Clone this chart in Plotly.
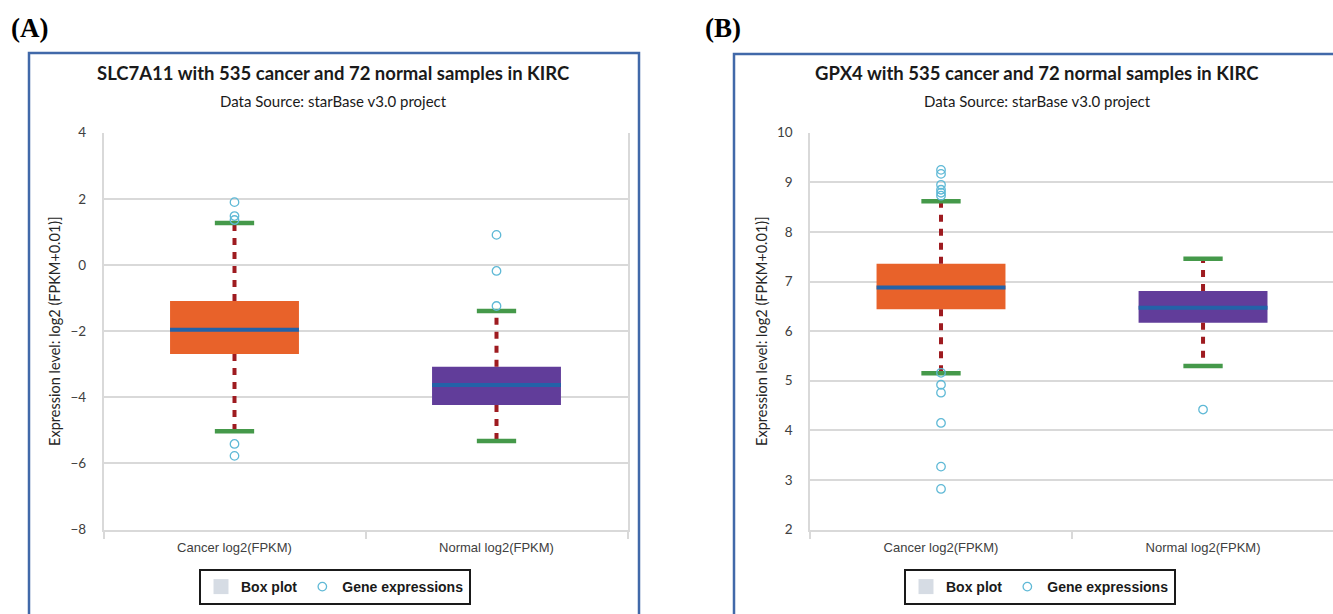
import plotly.graph_objects as go

# ---------------- data ----------------
categories = ["Cancer log2(FPKM)", "Normal log2(FPKM)"]

# Panel A: SLC7A11
a_q1 = [-2.69, -4.23]
a_median = [-1.96, -3.63]
a_q3 = [-1.09, -3.08]
a_lower = [-5.03, -5.32]
a_upper = [1.27, -1.39]
a_out_cancer = [1.90, 1.48, 1.36, -5.41, -5.77]
a_out_normal = [0.91, -0.18, -1.24]

# Panel B: GPX4
b_q1 = [6.44, 6.17]
b_median = [6.88, 6.47]
b_q3 = [7.36, 6.81]
b_lower = [5.15, 5.30]
b_upper = [8.62, 7.46]
b_out_cancer = [9.25, 9.17, 8.95, 8.85, 8.79, 8.73, 5.16, 4.92, 4.76, 4.15, 3.27, 2.82]
b_out_normal = [4.42]

a_title = "SLC7A11 with 535 cancer and 72 normal samples in KIRC"
b_title = "GPX4 with 535 cancer and 72 normal samples in KIRC"
subtitle = "Data Source: starBase v3.0 project"
y_title = "Expression level: log2 (FPKM+0.01)]"

# ---------------- style ----------------
W, H = 1333, 614
box_colors = ["#e8622a", "#613d9a"]
median_color = "#2362a8"
whisker_color = "#9e1b20"
cap_color = "#45994a"
marker_color = "#5fb9d6"
grid_color = "#d9d9d9"
frame_color = "#4169a9"
BOX_HALF = 0.246
CAP_HALF = 0.075

fig = go.Figure()


def add_panel(xa, ya, legend, q1, med, q3, lo, hi, outs):
    xs = list(range(len(categories)))
    # boxes
    fig.add_trace(go.Bar(
        x=xs, y=[b - a for a, b in zip(q1, q3)], base=q1, width=2 * BOX_HALF,
        marker=dict(color=box_colors, line=dict(width=0)),
        xaxis=xa, yaxis=ya, showlegend=False, hoverinfo="skip"))
    # whiskers
    wx, wy = [], []
    for i in xs:
        wx += [i, i, None, i, i, None]
        wy += [q3[i], hi[i], None, q1[i], lo[i], None]
    fig.add_trace(go.Scatter(
        x=wx, y=wy, mode="lines",
        line=dict(color=whisker_color, width=4, dash="7px,7px"),
        xaxis=xa, yaxis=ya, showlegend=False, hoverinfo="skip"))
    # medians
    mx, my = [], []
    for i in xs:
        mx += [i - BOX_HALF, i + BOX_HALF, None]
        my += [med[i], med[i], None]
    fig.add_trace(go.Scatter(
        x=mx, y=my, mode="lines", line=dict(color=median_color, width=4),
        xaxis=xa, yaxis=ya, showlegend=False, hoverinfo="skip"))
    # caps
    cx, cy = [], []
    for i in xs:
        cx += [i - CAP_HALF, i + CAP_HALF, None, i - CAP_HALF, i + CAP_HALF, None]
        cy += [hi[i], hi[i], None, lo[i], lo[i], None]
    fig.add_trace(go.Scatter(
        x=cx, y=cy, mode="lines", line=dict(color=cap_color, width=4.5),
        xaxis=xa, yaxis=ya, showlegend=False, hoverinfo="skip"))
    # legend swatch for box plot
    fig.add_trace(go.Scatter(
        x=[None], y=[None], mode="markers", name="<b>Box plot</b>",
        marker=dict(symbol="square", size=15, color="#d6dce4"),
        xaxis=xa, yaxis=ya, legend=legend, showlegend=True))
    # outliers
    ox, oy = [], []
    for i, vals in enumerate(outs):
        ox += [i] * len(vals)
        oy += vals
    fig.add_trace(go.Scatter(
        x=ox, y=oy, mode="markers", name="<b>Gene expressions</b>",
        marker=dict(symbol="circle-open", size=8.5, color=marker_color,
                    line=dict(width=1.3, color=marker_color)),
        xaxis=xa, yaxis=ya, legend=legend, showlegend=True))


add_panel("x", "y", "legend", a_q1, a_median, a_q3, a_lower, a_upper,
          [a_out_cancer, a_out_normal])
add_panel("x2", "y2", "legend2", b_q1, b_median, b_q3, b_lower, b_upper,
          [b_out_cancer, b_out_normal])

ydom = [1 - 529.6 / H, 1 - 132.7 / H]

xaxis_common = dict(
    tickmode="array", tickvals=[0, 1], ticktext=categories,
    ticks="outside", ticklen=5, tickcolor="rgba(0,0,0,0)",
    showgrid=False, zeroline=False, showline=True, linecolor=grid_color, linewidth=1.5,
    minor=dict(tickvals=[-0.5, 0.5, 1.5], ticks="outside", ticklen=8,
               tickcolor=grid_color, tickwidth=1.5, showgrid=False),
    tickfont=dict(family="Liberation Sans Narrow, Liberation Sans, Arial", size=13, color="#404040"),
    fixedrange=True,
)
yaxis_common = dict(
    showgrid=True, gridcolor=grid_color, gridwidth=1.5, zeroline=False,
    showline=True, mirror=True, linecolor=grid_color, linewidth=1.5,
    ticks="outside", ticklen=13, tickcolor="rgba(0,0,0,0)",
    tickfont=dict(family="Lato, Open Sans, sans-serif", size=13.5, color="#404040"),
    title=dict(text=y_title, font=dict(family="Lato, Open Sans, sans-serif", size=14.5, color="#262626"),
               standoff=6),
    fixedrange=True,
)

legend_common = dict(
    orientation="h", xanchor="left", y=1 - 569 / H, yanchor="top",
    bordercolor="#1a1a1a", borderwidth=2, bgcolor="white",
    font=dict(family="Liberation Sans, Arial", size=14, color="#1a1a1a"),
    itemclick=False, itemdoubleclick=False,
)

fig.update_layout(
    width=W, height=H, margin=dict(l=0, r=0, t=0, b=0, autoexpand=False),
    paper_bgcolor="white", plot_bgcolor="white", barmode="overlay",
    xaxis=dict(domain=[103.5 / W, 627.5 / W], range=[-0.5, 1.5], anchor="y", **xaxis_common),
    yaxis=dict(domain=ydom, range=[-8, 4], dtick=2, anchor="x", **yaxis_common),
    xaxis2=dict(domain=[810 / W, 1.0], range=[-0.5, 1.496], anchor="y2", **xaxis_common),
    yaxis2=dict(domain=ydom, range=[2, 10], dtick=1, anchor="x2", **yaxis_common),
    legend=dict(x=199 / W, **legend_common),
    legend2=dict(x=904 / W, **legend_common),
    showlegend=True,
)

# frames
fig.add_shape(type="rect", xref="paper", yref="paper", x0=29 / W, x1=639 / W,
              y0=-0.05, y1=1 - 53 / H, line=dict(color=frame_color, width=2.5), layer="below")
fig.add_shape(type="rect", xref="paper", yref="paper", x0=734 / W, x1=1.03,
              y0=-0.05, y1=1 - 54 / H, line=dict(color=frame_color, width=2.5), layer="below")

title_font = dict(family="Lato, Open Sans, sans-serif", size=18.5, color="#1a1a1a")
sub_font = dict(family="Lato, Open Sans, sans-serif", size=15, color="#1a1a1a")
letter_font = dict(family="Liberation Serif, Times New Roman, serif", size=27, color="black")
for cx, t in [(333, a_title), (1037, b_title)]:
    fig.add_annotation(x=cx / W, y=1 - 73 / H, xref="paper", yref="paper", text="<b>" + t + "</b>",
                       showarrow=False, font=title_font, xanchor="center", yanchor="middle")
    fig.add_annotation(x=cx / W, y=1 - 101 / H, xref="paper", yref="paper", text=subtitle,
                       showarrow=False, font=sub_font, xanchor="center", yanchor="middle")
fig.add_annotation(x=9 / W, y=1 - 28 / H, xref="paper", yref="paper", text="<b>(A)</b>",
                   showarrow=False, font=letter_font, xanchor="left", yanchor="middle")
fig.add_annotation(x=703 / W, y=1 - 28 / H, xref="paper", yref="paper", text="<b>(B)</b>",
                   showarrow=False, font=letter_font, xanchor="left", yanchor="middle")

fig.write_html("out.html", config={"displayModeBar": False},
               post_script="document.body.style.margin='0px';")
